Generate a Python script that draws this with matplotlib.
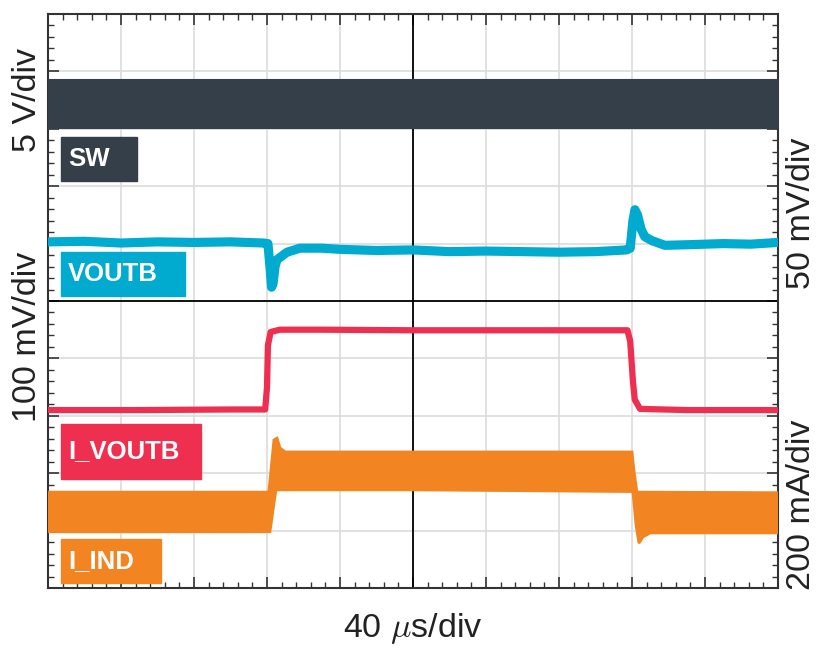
import matplotlib
matplotlib.use("Agg")
import matplotlib.pyplot as plt
from matplotlib.patches import Rectangle
from matplotlib.ticker import MultipleLocator
import numpy as np

plt.rcParams["font.family"] = ["Liberation Sans", "DejaVu Sans"]
plt.rcParams["mathtext.fontset"] = "cm"

# time in us (40 us/div), vertical position in screen divisions (0..10)
sw_t = [0, 400]
sw_top = [8.85, 8.85]
sw_bot = [8.01, 8.01]

voutb_t = [0, 20, 40, 60, 80, 100, 118, 120.5, 121.6, 122.5, 123.3, 124.4, 125.5, 128,
           131, 138, 150, 160, 180, 200, 220, 240, 260, 280, 300, 317, 319, 320.5,
           321.6, 323, 325, 327, 331, 338, 350, 370, 385, 400]
voutb_v = [6.03, 6.04, 6.01, 6.03, 6.02, 6.03, 6.01, 6.0, 5.6, 5.24, 5.3, 5.6, 5.72, 5.78,
           5.85, 5.92, 5.92, 5.90, 5.88, 5.89, 5.86, 5.87, 5.86, 5.85, 5.86, 5.89, 5.92, 6.4,
           6.59, 6.5, 6.25, 6.12, 6.05, 5.97, 5.98, 6.0, 5.99, 6.02]

ivoutb_t = [0, 50, 100, 119, 120.0, 120.5, 122, 127, 150, 200, 250, 300, 317.5, 319,
            320.5, 321.5, 324.4, 350, 400]
ivoutb_v = [3.10, 3.10, 3.11, 3.11, 3.5, 4.23, 4.46, 4.50, 4.50, 4.49, 4.49, 4.49, 4.49, 4.3,
            3.6, 3.28, 3.12, 3.10, 3.10]

iind_top_t = [0, 121, 122.2, 123.8, 125.5, 127.1, 130, 200, 320, 321, 322.7, 400]
iind_top_v = [1.67, 1.67, 2.06, 2.58, 2.61, 2.44, 2.37, 2.37, 2.37, 2.06, 1.67, 1.66]
iind_bot_t = [0, 121.6, 123.3, 124.9, 200, 320.5, 322.2, 323.8, 326, 330, 400]
iind_bot_v = [0.98, 0.98, 1.36, 1.71, 1.71, 1.68, 1.10, 0.78, 0.89, 0.96, 0.96]

c_sw = "#343f4a"
c_voutb = "#00abcf"
c_ivoutb = "#ee2f50"
c_iind = "#f28522"

fig = plt.figure(figsize=(8.22, 6.48), dpi=100)
ax = fig.add_axes([0.0584, 0.0926, 0.8881, 0.8858])

ax.fill_between(sw_t, sw_bot, sw_top, color=c_sw, lw=1.5, ec=c_sw, zorder=3)
ax.plot(voutb_t, voutb_v, color=c_voutb, lw=6.6, solid_capstyle="round",
        solid_joinstyle="round", zorder=3)
ax.plot(ivoutb_t, ivoutb_v, color=c_ivoutb, lw=4.5, solid_capstyle="round",
        solid_joinstyle="round", zorder=3)
poly_t = iind_top_t + iind_bot_t[::-1]
poly_v = iind_top_v + iind_bot_v[::-1]
ax.fill(poly_t, poly_v, color=c_iind, lw=2, ec=c_iind, zorder=3)

# trace labels
labels = [("SW", c_sw, 7.1, 7.09, 41.7, 0.77),
          ("VOUTB", c_voutb, 7.1, 5.09, 68.0, 0.76),
          ("I_VOUTB", c_ivoutb, 7.1, 1.90, 76.7, 0.96),
          ("I_IND", c_iind, 7.1, 0.09, 54.8, 0.76)]
for text, col, x0, y0, w, h in labels:
    ax.add_patch(Rectangle((x0, y0), w, h, color=col, zorder=4))
    ax.text(x0 + 4, y0 + h / 2, text, color="white", fontsize=18.5, fontweight="bold",
            va="center", ha="left", zorder=5)

ax.set_xlim(0, 400)
ax.set_ylim(0, 10)
ax.xaxis.set_major_locator(MultipleLocator(40))
ax.xaxis.set_minor_locator(MultipleLocator(8))
ax.yaxis.set_major_locator(MultipleLocator(1))
ax.yaxis.set_minor_locator(MultipleLocator(0.2))
ax.grid(True, which="major", color="#dcdcdc", lw=1.2, zorder=0)
ax.axvline(200, color="black", lw=1.3, zorder=2)
ax.axhline(5, color="black", lw=1.3, zorder=2)
ax.tick_params(which="both", direction="in", top=True, right=True,
               labelbottom=False, labelleft=False, color="#333333")
ax.tick_params(which="major", length=8, width=1.2)
ax.tick_params(which="minor", length=4.5, width=1.0)
for sp in ax.spines.values():
    sp.set_color("#333333")
    sp.set_linewidth(1.5)

lab = dict(fontsize=24.5, color="#222222", va="center", ha="center")
fig.text(413 / 822, 1 - 628 / 648, r"40 $\mu$s/div", **lab)
fig.text(28 / 822, 1 - 100 / 648, "5 V/div", rotation=90, **lab)
fig.text(28 / 822, 1 - 337 / 648, "100 mV/div", rotation=90, **lab)
fig.text(801 / 822, 1 - 213 / 648, "50 mV/div", rotation=90, **lab)
fig.text(801 / 822, 1 - 505 / 648, "200 mA/div", rotation=90, **lab)

fig.savefig("out.png", dpi=100)
